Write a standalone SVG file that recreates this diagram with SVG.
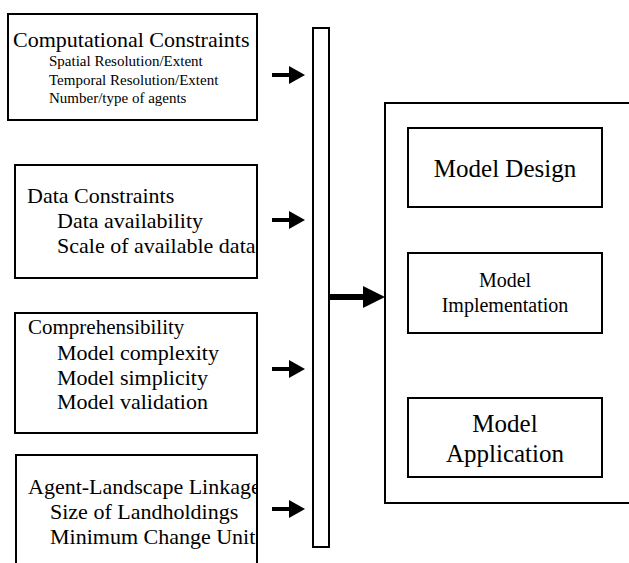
<svg xmlns="http://www.w3.org/2000/svg" width="629" height="563" viewBox="0 0 629 563">
<style>
  .box { fill: #ffffff; stroke: #000000; stroke-width: 2; }
  .t { font-family: "Liberation Serif", "Times New Roman", serif; fill: #000000; }
  .s22 { font-size: 22px; }
  .s21 { font-size: 21px; }
  .s15 { font-size: 15px; }
  .s25 { font-size: 25px; }
  .s20 { font-size: 20px; }
  .mid { text-anchor: middle; }
  .shaft { stroke: #000000; stroke-width: 4; fill: none; }
  .bigshaft { stroke: #000000; stroke-width: 6; fill: none; }
  .head { fill: #000000; }
</style>
<defs>
  <clipPath id="c1"><rect x="8" y="14" width="248" height="105"/></clipPath>
  <clipPath id="c2"><rect x="15" y="165" width="241" height="112"/></clipPath>
  <clipPath id="c3"><rect x="15" y="313" width="241" height="119"/></clipPath>
  <clipPath id="c4"><rect x="16" y="455" width="240" height="120"/></clipPath>
</defs>
<rect x="0" y="0" width="629" height="563" fill="#ffffff"/>

<g id="computational">
  <rect class="box" x="8" y="14" width="249" height="106"/>
  <g clip-path="url(#c1)">
    <text class="t s22" x="13" y="47">Computational Constraints</text>
    <text class="t s15" x="49" y="66">Spatial Resolution/Extent</text>
    <text class="t s15" x="49" y="85">Temporal Resolution/Extent</text>
    <text class="t s15" x="49" y="103">Number/type of agents</text>
  </g>
</g>

<g id="data">
  <rect class="box" x="15" y="165" width="242" height="113"/>
  <g clip-path="url(#c2)">
    <text class="t s22" x="27" y="203">Data Constraints</text>
    <text class="t s22" x="57" y="228">Data availability</text>
    <text class="t s22" x="57" y="253">Scale of available data</text>
  </g>
</g>

<g id="comprehensibility">
  <rect class="box" x="15" y="313" width="242" height="120"/>
  <g clip-path="url(#c3)">
    <text class="t s21" x="28" y="334">Comprehensibility</text>
    <text class="t s22" x="57" y="360">Model complexity</text>
    <text class="t s22" x="57" y="385">Model simplicity</text>
    <text class="t s22" x="57" y="409">Model validation</text>
  </g>
</g>

<g id="linkage">
  <rect class="box" x="16" y="455" width="241" height="130"/>
  <g clip-path="url(#c4)">
    <text class="t s22" x="28" y="494">Agent-Landscape Linkage</text>
    <text class="t s22" x="50" y="519">Size of Landholdings</text>
    <text class="t s22" x="50" y="544">Minimum Change Unit</text>
  </g>
</g>

<g id="collector">
  <rect class="box" x="313" y="28" width="16" height="519"/>
</g>

<g id="modelling">
  <rect class="box" x="385" y="103" width="270" height="400"/>
</g>

<g id="design">
  <rect class="box" x="408" y="128" width="194" height="79"/>
  <text class="t s25 mid" x="505" y="177">Model Design</text>
</g>

<g id="implementation">
  <rect class="box" x="408" y="253" width="194" height="80"/>
  <text class="t s20 mid" x="505" y="287">Model</text>
  <text class="t s20 mid" x="505" y="312">Implementation</text>
</g>

<g id="application">
  <rect class="box" x="408" y="398" width="194" height="79"/>
  <text class="t s25 mid" x="505" y="432">Model</text>
  <text class="t s25 mid" x="505" y="462">Application</text>
</g>

<g id="connectors">
  <line class="shaft" x1="272" y1="75" x2="291" y2="75"/>
  <polygon class="head" points="289,66 305,75 289,84"/>
  <line class="shaft" x1="272" y1="220" x2="291" y2="220"/>
  <polygon class="head" points="289,211 305,220 289,229"/>
  <line class="shaft" x1="272" y1="369" x2="291" y2="369"/>
  <polygon class="head" points="289,360 305,369 289,378"/>
  <line class="shaft" x1="272" y1="509" x2="291" y2="509"/>
  <polygon class="head" points="289,500 305,509 289,518"/>
  <line class="bigshaft" x1="330" y1="297" x2="365" y2="297"/>
  <polygon class="head" points="363,286 385,297 363,308"/>
</g>
</svg>
